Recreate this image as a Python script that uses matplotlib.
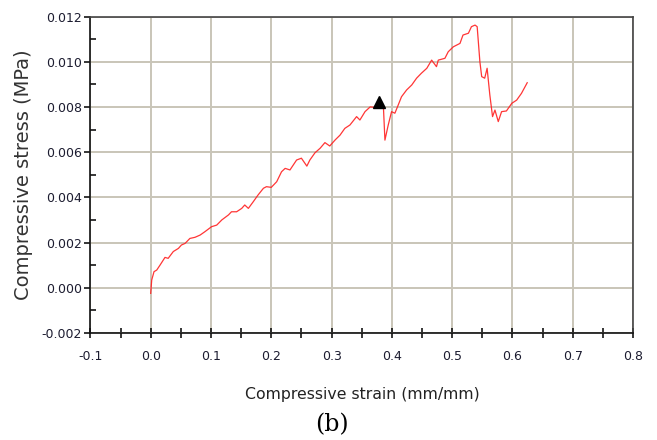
import matplotlib.pyplot as plt
from matplotlib.ticker import MultipleLocator

# strain (mm/mm) and stress (MPa)
strain = [0.0, 0.0017, 0.0055, 0.010, 0.0155, 0.0237, 0.029, 0.0375, 0.046, 0.051,
          0.057, 0.065, 0.0735, 0.082, 0.090, 0.101, 0.1095, 0.118, 0.129, 0.134,
          0.1425, 0.151, 0.156, 0.162, 0.170, 0.178, 0.187, 0.192, 0.200, 0.209,
          0.217, 0.223, 0.231, 0.242, 0.250, 0.259, 0.264, 0.2725, 0.281, 0.289,
          0.297, 0.306, 0.314, 0.322, 0.3305, 0.3415, 0.347, 0.3555, 0.364, 0.372,
          0.380, 0.386, 0.3885, 0.394, 0.3995, 0.405, 0.4105, 0.416, 0.4245, 0.433,
          0.441, 0.449, 0.458, 0.466, 0.474, 0.477, 0.488, 0.4935, 0.502, 0.513,
          0.518, 0.527, 0.532, 0.538, 0.5415, 0.546, 0.549, 0.554, 0.558, 0.5625,
          0.567, 0.571, 0.5765, 0.582, 0.590, 0.599, 0.607, 0.615, 0.6245]
stress = [-0.00025, 0.00034, 0.00071, 0.00078, 0.0010, 0.00134, 0.0013, 0.0016, 0.00174, 0.00189,
          0.00196, 0.00218, 0.00223, 0.00233, 0.00248, 0.0027, 0.00277, 0.0030, 0.00322, 0.00336,
          0.00336, 0.00351, 0.00366, 0.00351, 0.0038, 0.0041, 0.0044, 0.00447, 0.00444, 0.00469,
          0.00513, 0.00528, 0.00521, 0.00565, 0.00573, 0.00538, 0.00565, 0.00597, 0.00617, 0.00642,
          0.00627, 0.00654, 0.00675, 0.00705, 0.0072, 0.00757, 0.00742, 0.00779, 0.0080, 0.00798,
          0.0081, 0.0080, 0.00653, 0.0072, 0.00779, 0.00772, 0.00808, 0.00845, 0.00875, 0.00897,
          0.00927, 0.00949, 0.00971, 0.01007, 0.00978, 0.01007, 0.01015, 0.01044, 0.01066, 0.01081,
          0.01118, 0.01126, 0.01155, 0.01162, 0.01155, 0.0100, 0.00934, 0.00927, 0.00971, 0.00853,
          0.00757, 0.00786, 0.00735, 0.00779, 0.00782, 0.00816, 0.0083, 0.0086, 0.00907]

# marked point (black triangle)
mark_strain = [0.379]
mark_stress = [0.0082]

grid_col = "#c9c5b8"
tick_col = "#1c1c30"

fig = plt.figure(figsize=(6.57, 4.40), dpi=100)
ax = fig.add_axes([0.1376, 0.2434, 0.8259, 0.7191])

ax.plot(strain, stress, color="#ff2020", linewidth=0.9, alpha=0.9)
ax.plot(mark_strain, mark_stress, marker="^", color="black", markersize=9, linestyle="none")

ax.set_xlim(-0.1, 0.8)
ax.set_ylim(-0.002, 0.012)
ax.xaxis.set_major_locator(MultipleLocator(0.1))
ax.xaxis.set_minor_locator(MultipleLocator(0.05))
ax.yaxis.set_major_locator(MultipleLocator(0.002))
ax.yaxis.set_minor_locator(MultipleLocator(0.001))
ax.xaxis.set_major_formatter(lambda v, pos: f"{v:.1f}")
ax.yaxis.set_major_formatter(lambda v, pos: f"{v:.3f}")

ax.grid(True, which="major", color=grid_col, linewidth=1.4)
ax.set_axisbelow(True)

ax.tick_params(axis="x", which="both", direction="inout", length=7, width=1.1,
               labelsize=9, labelcolor=tick_col, pad=9)
ax.tick_params(axis="y", which="major", direction="out", length=4, width=1.1,
               labelsize=9, labelcolor=tick_col, pad=2)
ax.tick_params(axis="y", which="minor", direction="in", length=4, width=1.1)

for side in ["top", "right"]:
    ax.spines[side].set_color("#444444")
    ax.spines[side].set_linewidth(1.2)
for side in ["left", "bottom"]:
    ax.spines[side].set_color("#111111")
    ax.spines[side].set_linewidth(1.2)

ax.set_ylabel("Compressive stress (MPa)", fontsize=14, color="#333333")
ax.yaxis.set_label_coords(-0.106, 0.5)
ax.set_xlabel("Compressive strain (mm/mm)", fontsize=11.3, color="#222222")
ax.xaxis.set_label_coords(0.5006, -0.171)

fig.text(0.505, 0.034, "(b)", family="DejaVu Serif", fontsize=17, ha="center", va="center")

fig.savefig("out.png", dpi=100)
